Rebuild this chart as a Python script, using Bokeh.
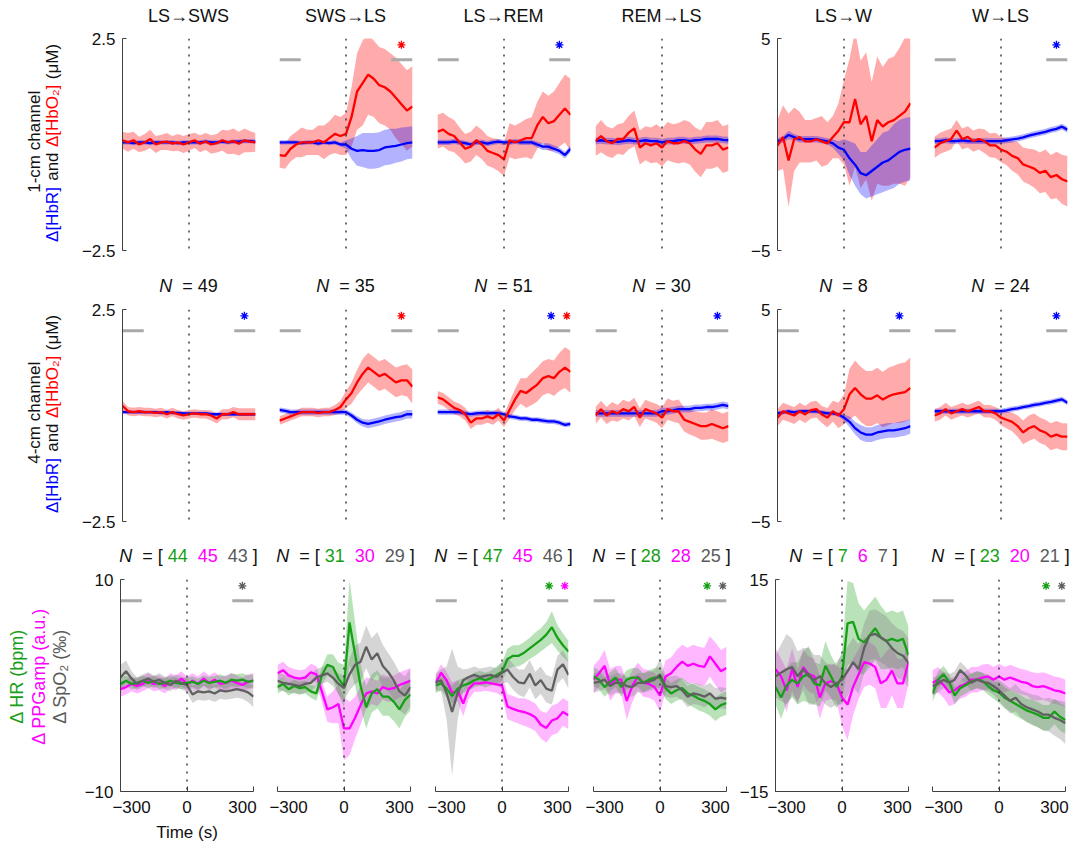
import math
import numpy as np
from bokeh.plotting import figure
from bokeh.layouts import column, row
from bokeh.models import Span, FixedTicker, Range1d, CustomJSTickFormatter
from bokeh.core.properties import value
from bokeh.embed import file_html
from bokeh.resources import INLINE

FONT = "Liberation Sans"

# ---------------- data ----------------
time_s = [-360, -330, -300, -270, -240, -210, -180, -150, -120, -90, -60, -30, 0,
          30, 60, 90, 120, 150, 180, 210, 240, 270, 300, 330, 360]

transitions = ["LS→SWS", "SWS→LS", "LS→REM", "REM→LS", "LS→W", "W→LS"]
n_4cm = [49, 35, 51, 30, 8, 24]
n_hr = [44, 31, 47, 28, 7, 23]
n_ppg = [45, 30, 45, 28, 6, 20]
n_spo2 = [43, 29, 46, 25, 7, 21]
ylim_hb = [2.5, 2.5, 2.5, 2.5, 5, 2.5]
ylim_phys = [10, 10, 10, 10, 15, 10]

# significance stars per panel
stars_1cm = [[], ["HbO2"], ["HbR"], [], [], ["HbR"]]
stars_4cm = [["HbR"], ["HbO2"], ["HbR", "HbO2"], ["HbR"], ["HbR"], ["HbR"]]
stars_phys = [["SpO2"], [], ["HR", "PPG"], ["HR", "SpO2"], [], ["HR", "SpO2"]]

# analysis windows (s)
win_pre = [-360, -245]
win_post = [245, 360]
star_x_one = [300]
star_x_two = [255, 340]

# ---- 1-cm channel (uM) ----
hbo1_c1 = [0.10, 0.05, 0.10, 0.00, 0.05, 0.13, 0.00, 0.05, 0.07, 0.02, 0.05, 0.00, 0.05, 0.10, 0.02, 0.07, 0.00, 0.03, 0.10, 0.05, 0.08, 0.02, 0.10, 0.07, 0.05]
hbo1_c1_se = [0.20, 0.22, 0.20, 0.18, 0.20, 0.22, 0.20, 0.18, 0.20, 0.18, 0.20, 0.20, 0.20, 0.18, 0.20, 0.20, 0.22, 0.22, 0.25, 0.28, 0.30, 0.28, 0.28, 0.25, 0.22]
hbr1_c1 = [0.05, 0.05, 0.03, 0.05, 0.05, 0.03, 0.05, 0.05, 0.05, 0.05, 0.03, 0.05, 0.05, 0.05, 0.05, 0.07, 0.05, 0.05, 0.07, 0.05, 0.07, 0.07, 0.08, 0.08, 0.07]
hbr1_c1_se = [0.05, 0.05, 0.05, 0.05, 0.05, 0.05, 0.05, 0.05, 0.05, 0.05, 0.05, 0.05, 0.05, 0.05, 0.05, 0.05, 0.05, 0.05, 0.05, 0.05, 0.05, 0.05, 0.05, 0.05, 0.05]

hbo1_c2 = [-0.25, -0.27, -0.10, 0.00, 0.05, 0.05, 0.05, 0.10, 0.05, 0.15, 0.25, 0.20, 0.25, 0.65, 1.25, 1.45, 1.65, 1.55, 1.40, 1.35, 1.25, 1.10, 0.95, 0.80, 0.90]
hbo1_c2_se = [0.30, 0.30, 0.30, 0.30, 0.35, 0.30, 0.30, 0.35, 0.40, 0.40, 0.45, 0.45, 0.50, 0.70, 0.90, 1.00, 0.95, 0.90, 0.90, 0.90, 0.90, 0.95, 0.95, 0.95, 0.95]
hbr1_c2 = [0.05, 0.05, 0.05, 0.05, 0.03, 0.05, 0.05, 0.02, 0.05, 0.03, 0.05, 0.00, 0.00, -0.10, -0.15, -0.13, -0.15, -0.15, -0.13, -0.07, -0.05, -0.03, 0.00, 0.03, 0.05]
hbr1_c2_se = [0.05, 0.05, 0.05, 0.05, 0.05, 0.05, 0.05, 0.05, 0.05, 0.05, 0.05, 0.05, 0.10, 0.25, 0.35, 0.40, 0.42, 0.42, 0.42, 0.42, 0.42, 0.40, 0.40, 0.38, 0.38]

hbo1_c3 = [0.30, 0.35, 0.25, 0.20, 0.05, -0.10, -0.05, 0.10, 0.00, -0.15, -0.20, -0.25, -0.35, 0.10, 0.05, 0.10, 0.15, 0.15, 0.45, 0.65, 0.50, 0.55, 0.70, 0.85, 0.70]
hbo1_c3_se = [0.40, 0.40, 0.40, 0.38, 0.35, 0.35, 0.35, 0.35, 0.35, 0.35, 0.35, 0.38, 0.40, 0.40, 0.40, 0.42, 0.45, 0.50, 0.55, 0.60, 0.65, 0.70, 0.75, 0.80, 0.85]
hbr1_c3 = [0.05, 0.05, 0.05, 0.07, 0.05, 0.03, 0.00, 0.05, 0.05, 0.02, 0.05, 0.07, 0.05, 0.05, 0.07, 0.05, 0.05, 0.05, 0.00, -0.05, -0.05, -0.10, -0.15, -0.25, -0.10]
hbr1_c3_se = [0.06, 0.06, 0.06, 0.06, 0.06, 0.06, 0.06, 0.06, 0.06, 0.06, 0.06, 0.06, 0.06, 0.06, 0.06, 0.06, 0.06, 0.06, 0.07, 0.08, 0.08, 0.08, 0.08, 0.08, 0.08]

hbo1_c4 = [0.08, 0.20, 0.08, 0.03, 0.13, 0.13, 0.28, 0.38, -0.07, 0.03, -0.02, 0.03, -0.07, 0.08, 0.03, 0.03, 0.08, 0.03, -0.12, -0.22, -0.02, -0.02, 0.03, -0.12, -0.07]
hbo1_c4_se = [0.35, 0.38, 0.35, 0.35, 0.35, 0.38, 0.40, 0.42, 0.40, 0.40, 0.42, 0.45, 0.45, 0.45, 0.45, 0.48, 0.50, 0.50, 0.52, 0.55, 0.55, 0.55, 0.55, 0.55, 0.55]
hbr1_c4 = [0.08, 0.10, 0.08, 0.08, 0.06, 0.08, 0.10, 0.08, 0.08, 0.10, 0.08, 0.08, 0.05, 0.08, 0.08, 0.10, 0.10, 0.08, 0.10, 0.11, 0.13, 0.13, 0.13, 0.11, 0.10]
hbr1_c4_se = [0.08, 0.08, 0.08, 0.08, 0.08, 0.08, 0.08, 0.08, 0.08, 0.08, 0.08, 0.08, 0.08, 0.08, 0.08, 0.08, 0.08, 0.08, 0.08, 0.08, 0.08, 0.08, 0.08, 0.08, 0.08]

hbo1_c5 = [-0.05, 0.35, -0.75, 0.25, 0.35, 0.15, 0.15, 0.25, 0.15, 0.05, 0.35, 0.65, 1.05, 1.05, 2.15, 0.95, 1.35, 0.15, 1.15, 0.85, 1.05, 1.15, 1.35, 1.55, 1.95]
hbo1_c5_se = [1.2, 1.5, 2.2, 1.5, 1.2, 1.0, 1.0, 1.0, 1.2, 1.0, 1.0, 1.3, 2.0, 3.0, 3.2, 3.0, 3.0, 2.8, 3.0, 2.8, 3.0, 3.0, 3.2, 3.5, 3.5]
hbr1_c5 = [0.15, 0.25, 0.45, 0.35, 0.25, 0.25, 0.25, 0.25, 0.20, 0.15, 0.05, -0.15, -0.25, -0.65, -0.95, -1.35, -1.45, -1.25, -1.05, -0.85, -0.75, -0.55, -0.35, -0.25, -0.20]
hbr1_c5_se = [0.15, 0.15, 0.20, 0.15, 0.15, 0.15, 0.15, 0.15, 0.15, 0.15, 0.20, 0.30, 0.50, 0.80, 1.00, 1.00, 1.10, 1.20, 1.30, 1.40, 1.40, 1.50, 1.50, 1.50, 1.50]

hbo1_c6 = [-0.07, 0.03, 0.08, 0.13, 0.33, 0.13, 0.18, 0.08, 0.13, 0.08, -0.02, -0.02, -0.12, -0.17, -0.27, -0.32, -0.47, -0.52, -0.57, -0.67, -0.62, -0.77, -0.72, -0.82, -0.87]
hbo1_c6_se = [0.25, 0.25, 0.25, 0.25, 0.25, 0.25, 0.25, 0.25, 0.25, 0.28, 0.28, 0.30, 0.30, 0.32, 0.35, 0.38, 0.40, 0.42, 0.45, 0.48, 0.50, 0.52, 0.55, 0.58, 0.60]
hbr1_c6 = [0.08, 0.08, 0.10, 0.08, 0.08, 0.10, 0.08, 0.08, 0.08, 0.08, 0.08, 0.08, 0.08, 0.10, 0.12, 0.14, 0.17, 0.21, 0.24, 0.27, 0.30, 0.34, 0.37, 0.42, 0.35]
hbr1_c6_se = [0.07, 0.07, 0.07, 0.07, 0.07, 0.07, 0.07, 0.07, 0.07, 0.07, 0.07, 0.07, 0.07, 0.07, 0.07, 0.07, 0.07, 0.07, 0.07, 0.07, 0.07, 0.07, 0.07, 0.07, 0.07]

# ---- 4-cm channel (uM) ----
hbo4_c1 = [0.23, 0.10, 0.08, 0.10, 0.08, 0.08, 0.06, 0.08, 0.03, 0.08, 0.03, 0.00, 0.03, 0.05, 0.03, 0.03, 0.00, -0.07, 0.03, 0.03, 0.08, 0.03, 0.03, 0.03, 0.03]
hbo4_c1_se = [0.12, 0.10, 0.10, 0.10, 0.10, 0.10, 0.10, 0.10, 0.10, 0.10, 0.10, 0.10, 0.10, 0.10, 0.10, 0.10, 0.12, 0.12, 0.12, 0.12, 0.12, 0.14, 0.14, 0.14, 0.14]
hbr4_c1 = [0.08, 0.08, 0.08, 0.08, 0.08, 0.08, 0.08, 0.06, 0.08, 0.06, 0.06, 0.05, 0.05, 0.05, 0.05, 0.05, 0.03, 0.03, 0.03, 0.03, 0.03, 0.03, 0.03, 0.03, 0.03]
hbr4_c1_se = [0.04, 0.04, 0.04, 0.04, 0.04, 0.04, 0.04, 0.04, 0.04, 0.04, 0.04, 0.04, 0.04, 0.04, 0.04, 0.04, 0.04, 0.04, 0.04, 0.04, 0.04, 0.04, 0.04, 0.04, 0.04]

hbo4_c2 = [-0.12, -0.07, -0.02, 0.03, 0.08, 0.08, 0.08, 0.06, 0.08, 0.08, 0.13, 0.20, 0.38, 0.53, 0.78, 0.98, 1.13, 1.03, 0.93, 0.98, 0.88, 0.78, 0.83, 0.83, 0.68]
hbo4_c2_se = [0.10, 0.10, 0.10, 0.10, 0.10, 0.10, 0.10, 0.10, 0.10, 0.10, 0.12, 0.15, 0.20, 0.25, 0.30, 0.35, 0.35, 0.35, 0.35, 0.35, 0.35, 0.35, 0.35, 0.38, 0.40]
hbr4_c2 = [0.13, 0.11, 0.08, 0.08, 0.08, 0.08, 0.08, 0.08, 0.08, 0.08, 0.08, 0.08, 0.08, 0.00, -0.10, -0.17, -0.20, -0.17, -0.14, -0.10, -0.07, -0.04, -0.02, 0.03, 0.03]
hbr4_c2_se = [0.06, 0.06, 0.06, 0.06, 0.06, 0.06, 0.06, 0.06, 0.06, 0.06, 0.06, 0.06, 0.06, 0.07, 0.08, 0.09, 0.10, 0.10, 0.10, 0.10, 0.10, 0.10, 0.10, 0.10, 0.10]

hbo4_c3 = [0.43, 0.38, 0.28, 0.18, 0.13, 0.03, -0.17, -0.07, -0.07, -0.02, -0.07, 0.03, -0.12, 0.13, 0.38, 0.58, 0.53, 0.63, 0.73, 0.88, 0.93, 0.88, 1.03, 1.13, 1.03]
hbo4_c3_se = [0.15, 0.15, 0.15, 0.15, 0.15, 0.15, 0.15, 0.15, 0.15, 0.15, 0.15, 0.15, 0.15, 0.20, 0.25, 0.30, 0.35, 0.38, 0.40, 0.40, 0.40, 0.42, 0.45, 0.48, 0.50]
hbr4_c3 = [0.08, 0.08, 0.08, 0.08, 0.08, 0.05, 0.03, 0.05, 0.06, 0.05, 0.06, 0.05, 0.03, -0.02, -0.04, -0.07, -0.07, -0.10, -0.10, -0.12, -0.14, -0.14, -0.17, -0.22, -0.20]
hbr4_c3_se = [0.06, 0.06, 0.06, 0.06, 0.06, 0.06, 0.06, 0.06, 0.06, 0.06, 0.06, 0.06, 0.06, 0.06, 0.06, 0.06, 0.06, 0.06, 0.06, 0.06, 0.06, 0.06, 0.06, 0.06, 0.06]

hbo4_c4 = [0.00, 0.15, 0.00, 0.10, 0.05, 0.15, 0.10, 0.20, -0.05, 0.15, 0.10, 0.05, -0.05, 0.15, 0.10, 0.10, -0.10, -0.15, -0.20, -0.25, -0.25, -0.20, -0.25, -0.30, -0.25]
hbo4_c4_se = [0.20, 0.20, 0.20, 0.22, 0.20, 0.22, 0.22, 0.22, 0.22, 0.22, 0.22, 0.22, 0.25, 0.25, 0.25, 0.28, 0.28, 0.30, 0.30, 0.32, 0.32, 0.35, 0.35, 0.35, 0.35]
hbr4_c4 = [0.05, 0.05, 0.05, 0.05, 0.05, 0.05, 0.05, 0.05, 0.05, 0.05, 0.05, 0.05, 0.10, 0.10, 0.12, 0.15, 0.15, 0.15, 0.18, 0.18, 0.20, 0.20, 0.22, 0.25, 0.22]
hbr4_c4_se = [0.08, 0.08, 0.08, 0.08, 0.08, 0.08, 0.08, 0.08, 0.08, 0.08, 0.08, 0.08, 0.08, 0.08, 0.08, 0.08, 0.08, 0.08, 0.08, 0.08, 0.08, 0.08, 0.08, 0.08, 0.08]

hbo4_c5 = [-0.10, 0.20, 0.10, 0.00, 0.20, 0.05, 0.25, 0.30, 0.05, -0.10, 0.20, 0.00, 0.30, 1.00, 1.30, 1.00, 0.80, 0.80, 0.95, 0.75, 0.90, 1.00, 1.05, 1.10, 1.30]
hbo4_c5_se = [0.40, 0.40, 0.40, 0.40, 0.40, 0.40, 0.40, 0.40, 0.40, 0.45, 0.50, 0.60, 0.70, 1.20, 1.30, 1.30, 1.30, 1.30, 1.30, 1.30, 1.35, 1.35, 1.40, 1.40, 1.45]
hbr4_c5 = [0.10, 0.15, 0.20, 0.15, 0.20, 0.20, 0.20, 0.20, 0.15, 0.10, 0.10, 0.05, -0.10, -0.30, -0.60, -0.80, -0.90, -0.90, -0.80, -0.75, -0.70, -0.70, -0.65, -0.60, -0.50]
hbr4_c5_se = [0.10, 0.10, 0.10, 0.10, 0.10, 0.10, 0.10, 0.10, 0.10, 0.10, 0.10, 0.10, 0.15, 0.25, 0.30, 0.35, 0.35, 0.35, 0.35, 0.35, 0.35, 0.35, 0.35, 0.35, 0.35]

hbo4_c6 = [0.00, 0.05, 0.15, 0.05, 0.10, 0.15, 0.10, 0.15, 0.20, 0.10, 0.10, 0.05, -0.05, -0.10, -0.15, -0.25, -0.40, -0.30, -0.25, -0.35, -0.40, -0.50, -0.45, -0.50, -0.50]
hbo4_c6_se = [0.15, 0.15, 0.15, 0.15, 0.15, 0.15, 0.15, 0.15, 0.15, 0.15, 0.15, 0.15, 0.18, 0.20, 0.22, 0.25, 0.28, 0.30, 0.30, 0.30, 0.30, 0.32, 0.32, 0.32, 0.32]
hbr4_c6 = [0.10, 0.10, 0.10, 0.10, 0.10, 0.10, 0.10, 0.10, 0.10, 0.10, 0.10, 0.10, 0.10, 0.12, 0.15, 0.17, 0.20, 0.22, 0.25, 0.27, 0.30, 0.32, 0.35, 0.38, 0.30]
hbr4_c6_se = [0.06, 0.06, 0.06, 0.06, 0.06, 0.06, 0.06, 0.06, 0.06, 0.06, 0.06, 0.06, 0.06, 0.06, 0.06, 0.06, 0.06, 0.06, 0.06, 0.06, 0.06, 0.06, 0.06, 0.06, 0.06]

# ---- physiology: HR (bpm), PPGamp (a.u.), SpO2 (per mille) ----
hr_c1 = [0.15, 0.45, 0.15, 0.25, 0.45, 0.25, 0.45, 0.15, 0.25, 0.45, 0.25, 0.15, 0.25, 0.35, 0.15, 0.45, 0.25, 0.35, 0.45, 0.25, 0.55, 0.45, 0.55, 0.35, 0.45]
hr_c1_se = [0.6, 0.5, 0.5, 0.5, 0.5, 0.5, 0.5, 0.5, 0.5, 0.5, 0.5, 0.5, 0.5, 0.5, 0.5, 0.5, 0.55, 0.55, 0.6, 0.6, 0.6, 0.6, 0.6, 0.6, 0.6]
ppg_c1 = [-0.35, -0.15, 0.15, -0.05, 0.15, 0.45, 0.15, 0.25, -0.05, 0.45, 0.25, 0.65, 0.15, 0.45, 0.15, 0.65, 0.25, 0.55, 0.15, 0.25, 0.45, 0.25, 0.05, 0.35, 0.45]
ppg_c1_se = [0.7, 0.7, 0.7, 0.7, 0.7, 0.7, 0.7, 0.7, 0.7, 0.7, 0.7, 0.7, 0.7, 0.7, 0.7, 0.7, 0.7, 0.7, 0.7, 0.7, 0.7, 0.7, 0.7, 0.7, 0.7]
spo2_c1 = [0.75, 1.35, 0.65, 0.15, 0.45, 0.65, 0.35, 0.55, 0.25, 0.05, 0.45, 0.25, 0.05, -0.85, -0.55, -0.65, -0.55, -0.75, -0.45, -0.55, -0.45, -0.35, -0.45, -0.65, -1.05]
spo2_c1_se = [1.2, 1.0, 0.7, 0.6, 0.6, 0.6, 0.6, 0.6, 0.6, 0.6, 0.6, 0.6, 0.7, 0.8, 0.8, 0.8, 0.8, 0.8, 0.8, 0.8, 0.8, 0.8, 0.8, 0.9, 1.0]

hr_c2 = [-0.15, 0.15, -0.35, -0.05, -0.25, -0.15, -0.55, -0.75, 0.95, 1.95, 1.75, 0.65, -0.05, 5.95, 2.95, -0.05, -2.05, -0.75, -0.35, -1.05, -1.05, -1.55, -2.25, -1.35, -0.85]
hr_c2_se = [0.6, 0.6, 0.6, 0.6, 0.6, 0.6, 0.6, 0.7, 0.8, 1.0, 1.2, 1.5, 2.0, 4.0, 3.0, 2.0, 2.0, 1.8, 1.8, 1.8, 1.8, 1.8, 1.8, 1.6, 1.5]
ppg_c2 = [1.15, 1.45, 0.95, 0.75, 0.65, 0.75, 1.25, 1.05, -0.55, -2.25, -2.05, -1.75, -4.05, -4.05, -3.05, -1.85, -0.75, -0.55, -0.75, -0.15, -0.35, -0.25, 0.05, 0.25, 0.45]
ppg_c2_se = [0.8, 0.8, 0.8, 0.8, 0.8, 0.8, 0.8, 0.8, 1.0, 1.2, 1.5, 1.8, 3.0, 2.5, 2.0, 1.8, 1.5, 1.2, 1.2, 1.2, 1.2, 1.2, 1.2, 1.2, 1.2]
spo2_c2 = [0.45, 0.25, 0.15, 0.05, -0.05, 0.15, 0.25, 0.75, 0.95, 1.15, 0.75, 0.15, -0.25, 1.05, 1.95, 2.25, 3.65, 2.45, 3.05, 1.85, 1.25, 0.45, -0.55, -0.95, -0.15]
spo2_c2_se = [0.8, 0.8, 0.8, 0.8, 0.8, 0.8, 0.8, 0.8, 0.8, 0.8, 0.8, 1.0, 1.2, 1.5, 1.8, 1.8, 2.0, 2.0, 2.0, 2.0, 1.8, 1.8, 1.8, 1.8, 1.8]

hr_c3 = [0.0, 0.2, -0.3, -1.0, -0.3, 0.0, 0.2, 0.5, 0.7, 0.5, 0.7, 1.0, 1.3, 2.5, 2.8, 2.8, 3.1, 3.5, 3.9, 4.3, 4.8, 5.5, 4.5, 3.8, 3.2]
hr_c3_se = [0.7, 0.7, 0.8, 1.0, 0.8, 0.7, 0.7, 0.7, 0.7, 0.7, 0.7, 0.8, 0.9, 1.0, 1.0, 1.0, 1.0, 1.0, 1.1, 1.1, 1.2, 1.5, 1.2, 1.1, 1.0]
ppg_c3 = [0.2, 1.2, 0.5, -0.7, -0.5, -1.7, -0.3, 0.2, 0.2, 0.3, 0.2, 0.1, 0.0, -2.0, -2.2, -2.4, -2.5, -2.7, -3.0, -3.7, -4.0, -3.3, -3.1, -2.5, -2.8]
ppg_c3_se = [0.8, 0.8, 0.8, 1.0, 1.0, 1.2, 1.0, 0.8, 0.8, 0.8, 0.8, 0.8, 1.0, 1.2, 1.2, 1.2, 1.3, 1.3, 1.3, 1.3, 1.4, 1.4, 1.4, 1.3, 1.3]
spo2_c3 = [0.3, 0.5, -0.7, -2.5, -0.7, 0.5, 0.8, 1.0, 0.8, 0.9, 1.0, 0.8, 1.2, 1.5, 0.8, 0.3, 0.2, 1.1, 0.0, 0.5, -0.3, -0.5, 1.5, 2.0, 1.0]
spo2_c3_se = [0.8, 1.0, 2.5, 6.0, 2.5, 1.0, 0.8, 0.8, 0.8, 0.8, 0.8, 0.8, 1.0, 1.2, 1.2, 1.2, 1.3, 1.3, 1.3, 1.3, 1.3, 1.3, 1.3, 1.3, 1.3]

hr_c4 = [0.85, 0.55, -0.15, 0.35, 0.75, -0.15, 0.55, 0.75, 0.75, 0.25, 0.55, 0.75, 0.75, -0.25, -0.75, -0.45, -0.25, -0.75, -0.95, -1.25, -1.45, -1.75, -2.25, -1.85, -1.65]
hr_c4_se = [0.9, 0.9, 0.9, 0.9, 0.9, 0.9, 0.9, 0.9, 0.9, 0.9, 0.9, 0.9, 1.0, 1.0, 1.0, 1.0, 1.0, 1.0, 1.1, 1.1, 1.1, 1.1, 1.1, 1.1, 1.1]
ppg_c4 = [0.55, 1.15, 1.85, 0.05, 0.55, 0.55, -1.45, -0.05, 0.85, 0.25, 0.15, -0.15, -0.95, 0.85, 1.15, 1.75, 2.25, 1.85, 2.05, 1.85, 1.75, 2.75, 2.05, 1.35, 1.65]
ppg_c4_se = [1.3, 1.3, 1.5, 1.5, 1.3, 1.3, 1.8, 1.5, 1.3, 1.3, 1.3, 1.3, 1.5, 1.5, 1.5, 1.6, 1.6, 1.7, 1.8, 1.8, 1.8, 1.9, 2.0, 2.0, 2.0]
spo2_c4 = [0.25, 0.35, 0.55, -0.05, 0.25, 0.25, -0.05, -0.15, 0.25, 0.25, 0.35, 0.55, 1.05, -0.05, -0.15, -0.05, -0.45, -1.05, -0.75, -0.85, -1.05, -0.75, -1.25, -1.15, -1.25]
spo2_c4_se = [0.9, 0.9, 0.9, 0.9, 0.9, 0.9, 0.9, 0.9, 0.9, 0.9, 0.9, 0.9, 1.5, 1.0, 1.0, 1.0, 1.0, 1.0, 1.0, 1.0, 1.0, 1.0, 1.0, 1.0, 1.0]

hr_c5 = [-0.2, -1.7, 0.0, 0.8, 0.3, 1.3, 1.6, 0.3, 0.0, 2.8, 1.3, -0.2, 1.3, 8.8, 9.0, 6.6, 6.1, 7.1, 8.1, 6.8, 6.3, 6.6, 6.3, 6.6, 4.3]
hr_c5_se = [2.5, 3.0, 2.5, 2.5, 3.0, 3.5, 4.0, 3.0, 3.0, 3.5, 3.0, 3.0, 3.5, 6.0, 5.5, 5.0, 4.5, 4.5, 4.5, 4.5, 4.0, 4.0, 4.0, 4.0, 4.0]
ppg_c5 = [2.3, 1.3, -0.7, 2.3, -0.2, 2.6, 1.6, 1.3, -1.7, 0.3, 0.6, 0.3, -1.7, -2.7, -0.2, 1.6, 3.3, 3.1, 2.6, 0.3, 0.8, 2.1, 0.3, 0.3, 3.3]
ppg_c5_se = [3.0, 2.5, 3.0, 3.0, 2.5, 2.5, 2.5, 2.5, 3.0, 2.5, 2.5, 2.5, 4.0, 5.0, 4.0, 3.5, 3.5, 3.0, 3.0, 3.5, 4.0, 3.5, 3.5, 3.5, 3.0]
spo2_c5 = [1.3, 1.8, 2.3, 2.6, 1.3, 2.3, 1.3, 0.8, 1.3, 0.3, -0.2, 0.3, 0.8, 2.0, 3.3, 2.3, 5.3, 7.1, 7.3, 6.8, 6.3, 5.3, 4.6, 4.2, 3.2]
spo2_c5_se = [3.0, 4.0, 5.0, 4.0, 3.5, 3.0, 4.0, 3.5, 3.0, 3.0, 3.0, 3.0, 3.5, 3.5, 3.5, 3.5, 3.5, 3.5, 3.5, 3.5, 3.5, 3.5, 3.5, 3.5, 3.5]

hr_c6 = [-0.75, 0.55, 1.05, 0.35, -0.95, -0.25, 0.05, 0.35, 0.55, 0.45, -0.05, -0.45, -0.65, -1.15, -1.45, -1.75, -2.05, -2.35, -2.55, -2.75, -3.05, -3.05, -2.45, -2.95, -3.25]
hr_c6_se = [0.8, 0.8, 0.8, 0.8, 0.8, 0.8, 0.8, 0.8, 0.8, 0.8, 0.8, 0.8, 1.0, 1.0, 1.0, 1.1, 1.1, 1.1, 1.2, 1.2, 1.2, 1.2, 1.2, 1.3, 1.3]
ppg_c6 = [0.25, 0.55, 0.05, -0.65, -0.45, -0.05, 0.15, 0.55, 0.55, 0.75, 0.85, 0.55, 0.85, 0.55, 0.75, 0.55, 0.35, 0.25, -0.05, -0.15, -0.05, -0.25, -0.45, -0.55, -0.75]
ppg_c6_se = [1.2, 1.2, 1.2, 1.3, 1.3, 1.2, 1.2, 1.2, 1.2, 1.2, 1.2, 1.2, 1.2, 1.2, 1.2, 1.2, 1.2, 1.2, 1.3, 1.3, 1.3, 1.3, 1.3, 1.3, 1.3]
spo2_c6 = [-0.05, 0.15, 0.55, 0.25, 0.55, 1.45, 0.95, 0.25, 0.55, 0.35, 0.25, -0.05, -0.45, -0.95, -1.45, -1.15, -1.75, -2.05, -2.25, -2.45, -2.75, -2.75, -3.05, -3.25, -3.55]
spo2_c6_se = [0.8, 0.8, 0.8, 0.8, 0.8, 0.8, 0.8, 0.8, 0.8, 0.8, 0.8, 0.8, 1.0, 1.1, 1.2, 1.3, 1.3, 1.4, 1.4, 1.5, 1.5, 1.6, 1.7, 1.8, 2.0]

hb_1cm = [(hbo1_c1, hbo1_c1_se, hbr1_c1, hbr1_c1_se), (hbo1_c2, hbo1_c2_se, hbr1_c2, hbr1_c2_se),
          (hbo1_c3, hbo1_c3_se, hbr1_c3, hbr1_c3_se), (hbo1_c4, hbo1_c4_se, hbr1_c4, hbr1_c4_se),
          (hbo1_c5, hbo1_c5_se, hbr1_c5, hbr1_c5_se), (hbo1_c6, hbo1_c6_se, hbr1_c6, hbr1_c6_se)]
hb_4cm = [(hbo4_c1, hbo4_c1_se, hbr4_c1, hbr4_c1_se), (hbo4_c2, hbo4_c2_se, hbr4_c2, hbr4_c2_se),
          (hbo4_c3, hbo4_c3_se, hbr4_c3, hbr4_c3_se), (hbo4_c4, hbo4_c4_se, hbr4_c4, hbr4_c4_se),
          (hbo4_c5, hbo4_c5_se, hbr4_c5, hbr4_c5_se), (hbo4_c6, hbo4_c6_se, hbr4_c6, hbr4_c6_se)]
phys = [(hr_c1, hr_c1_se, ppg_c1, ppg_c1_se, spo2_c1, spo2_c1_se),
        (hr_c2, hr_c2_se, ppg_c2, ppg_c2_se, spo2_c2, spo2_c2_se),
        (hr_c3, hr_c3_se, ppg_c3, ppg_c3_se, spo2_c3, spo2_c3_se),
        (hr_c4, hr_c4_se, ppg_c4, ppg_c4_se, spo2_c4, spo2_c4_se),
        (hr_c5, hr_c5_se, ppg_c5, ppg_c5_se, spo2_c5, spo2_c5_se),
        (hr_c6, hr_c6_se, ppg_c6, ppg_c6_se, spo2_c6, spo2_c6_se)]

# ---------------- style / layout ----------------
BLUE = "#0000ff"
RED = "#ff0000"
GREEN = "#17a017"
MAGENTA = "#ff00ff"
GRAY = "#606060"
GRAYTXT = "#5a5a5a"
BAR = "#a9a9a9"
AX = "#404040"
K = "#111111"
STAR_COLOR = {"HbR": BLUE, "HbO2": RED, "HR": GREEN, "PPG": MAGENTA, "SpO2": GRAY}
LW = 2.3

TOTAL_W = 1072
LEFT_W = 78
FW, FH = 133, 212
COL_LEFT = [42, 16, 17, 17, 41, 16]
COL_RIGHT = [8, 8, 8, 8, 8, 7]
ROW_TOP = [8, 8, 8]
ROW_BOTTOM = [10, 10, 30]
STRIP_H = [30, 41, 40, 25]
TITLE_Y = [15, 16, 16]

# frame centres in page pixels
frame_left = []
acc = LEFT_W
for c in range(6):
    frame_left.append(acc + COL_LEFT[c])
    acc += COL_LEFT[c] + FW + COL_RIGHT[c]
frame_center = [fl + FW / 2.0 + 1.5 for fl in frame_left]

ADV = {"N": 722, " ": 278, "=": 584, "[": 278, "]": 278}
for d in "0123456789":
    ADV[d] = 556


def tw(s, size):
    return sum(ADV[ch] for ch in s) * size / 1000.0


minus_fmt = CustomJSTickFormatter(code="return (tick < 0 ? '\u2212' : '') + Math.abs(tick);")


def text_fig(w, h):
    f = figure(width=w, height=h, x_range=Range1d(0, w), y_range=Range1d(0, h),
               title=None, toolbar_location=None, tools="", output_backend="svg",
               x_axis_location=None, y_axis_location=None,
               min_border_left=0, min_border_right=0, min_border_top=0, min_border_bottom=0)
    f.xgrid.visible = False
    f.ygrid.visible = False
    f.outline_line_color = None
    f.background_fill_color = "white"
    f.border_fill_color = "white"
    return f


def put(f, x, y, s, color=K, size=18, align="center", italic=False, angle=0.0):
    f.text(x=[x], y=[y], text=[s], text_color=color, text_font=value(FONT),
           text_font_size=value(f"{size}px"), text_align=align, text_baseline="middle",
           text_font_style=value("italic" if italic else "normal"), angle=angle)


def put_pieces(f, pieces, cx, y, size=18):
    total = sum(tw(t, size) for t, _, _ in pieces)
    x = min(cx - total / 2.0, TOTAL_W - 2 - total)
    for s, color, italic in pieces:
        if color is not None:
            put(f, x, y, s, color, size, "left", italic)
        x += tw(s, size)


def make_fig(r, c, ymax, show_y, show_x):
    p = figure(frame_width=FW, frame_height=FH, x_range=Range1d(-360, 360),
               y_range=Range1d(-ymax, ymax), title=None, toolbar_location=None,
               tools="", output_backend="svg",
               x_axis_location="below" if show_x else None,
               y_axis_location="left" if show_y else None,
               min_border_left=COL_LEFT[c], min_border_right=COL_RIGHT[c],
               min_border_top=ROW_TOP[r], min_border_bottom=ROW_BOTTOM[r])
    p.xgrid.visible = False
    p.ygrid.visible = False
    p.outline_line_color = None
    p.background_fill_color = "white"
    p.border_fill_color = "white"
    if show_y:
        ax = p.yaxis[0]
        ax.ticker = FixedTicker(ticks=[-ymax, ymax])
        ax.formatter = minus_fmt
        ax.major_tick_in = 4
        ax.major_tick_out = 0
        ax.minor_tick_line_color = None
        ax.axis_line_color = AX
        ax.major_tick_line_color = AX
        ax.major_label_text_font = FONT
        ax.major_label_text_font_size = "17px"
        ax.major_label_text_color = K
        ax.major_label_standoff = 7
    if show_x:
        ax = p.xaxis[0]
        ax.ticker = FixedTicker(ticks=[-300, 0, 300], minor_ticks=[-360, 0, 360])
        ax.formatter = minus_fmt
        ax.major_tick_in = 0
        ax.major_tick_out = 0
        ax.major_tick_line_color = None
        ax.minor_tick_in = 5
        ax.minor_tick_out = 0
        ax.minor_tick_line_color = AX
        ax.axis_line_color = AX
        ax.major_label_text_font = FONT
        ax.major_label_text_font_size = "17px"
        ax.major_label_text_color = K
        ax.major_label_standoff = 9
    p.add_layout(Span(location=0, dimension="height", line_color="#303030",
                      line_width=1.4, line_dash="2 6"))
    return p


def band(p, mean, se, color, alpha):
    m = np.array(mean)
    s = np.array(se)
    p.varea(x=time_s, y1=m - s, y2=m + s, fill_color=color, fill_alpha=alpha)


def add_marks(p, ymax, stars):
    if not stars:
        return
    yb = 0.8 * ymax
    p.segment(x0=[win_pre[0], win_post[0]], x1=[win_pre[1], win_post[1]],
              y0=[yb, yb], y1=[yb, yb], line_color=BAR, line_width=3)
    xs = star_x_one if len(stars) == 1 else star_x_two
    for xv, key in zip(xs, stars):
        p.scatter(x=[xv], y=[0.94 * ymax], marker="asterisk", size=8,
                  line_color=STAR_COLOR[key], line_width=1.3)


HALF_PI = math.pi / 2

# title strips
strips = [text_fig(TOTAL_W, h) for h in STRIP_H]
for c in range(6):
    put(strips[0], frame_center[c], TITLE_Y[0], transitions[c], K, 18)
    put_pieces(strips[1], [("N", K, True), ("  ", None, False), (f"= {n_4cm[c]}", K, False)],
               frame_center[c], TITLE_Y[1])
    put_pieces(strips[2], [("N", K, True), ("  ", None, False), ("= [", K, False), (" ", None, False),
                           (str(n_hr[c]), GREEN, False), ("  ", None, False),
                           (str(n_ppg[c]), MAGENTA, False), ("  ", None, False),
                           (str(n_spo2[c]), GRAYTXT, False), (" ", None, False), ("]", K, False)],
               frame_center[c], TITLE_Y[2])
put(strips[3], frame_left[0] + FW / 2.0, 14, "Time (s)", K, 17)

# left label columns
row_h = [ROW_TOP[r] + FH + ROW_BOTTOM[r] for r in range(3)]
left_figs = [text_fig(LEFT_W, row_h[r]) for r in range(3)]
for r, name in enumerate(["1-cm channel", "4-cm channel"]):
    f = left_figs[r]
    b = ROW_BOTTOM[r]
    put(f, 33.6, b + 108, name, K, 17, angle=HALF_PI)
    for s, color, yc in [("Δ[HbR]", BLUE, 29), ("and", K, 81),
                         ("Δ[HbO₂]", RED, 136), ("(μM)", K, 195)]:
        put(f, 51.7, b + yc, s, color, 17, angle=HALF_PI)
f = left_figs[2]
b = ROW_BOTTOM[2]
put(f, 16.3, b + FH / 2.0, "Δ HR (bpm)", GREEN, 18, angle=HALF_PI)
put(f, 38.8, b + FH / 2.0, "Δ PPGamp (a.u.)", MAGENTA, 18, angle=HALF_PI)
put(f, 59.5, b + FH / 2.0, "Δ SpO₂ (‰)", GRAYTXT, 18, angle=HALF_PI)

panel_rows = [[left_figs[0]], [left_figs[1]], [left_figs[2]]]

for r, (data, stars_row) in enumerate([(hb_1cm, stars_1cm), (hb_4cm, stars_4cm)]):
    for c in range(6):
        ymax = ylim_hb[c]
        p = make_fig(r, c, ymax, c in (0, 4), False)
        hbo, hbo_se, hbr, hbr_se = data[c]
        band(p, hbo, hbo_se, RED, 0.33)
        band(p, hbr, hbr_se, BLUE, 0.30)
        p.line(time_s, hbr, line_color=BLUE, line_width=LW)
        p.line(time_s, hbo, line_color=RED, line_width=LW)
        add_marks(p, ymax, stars_row[c])
        panel_rows[r].append(p)

for c in range(6):
    ymax = ylim_phys[c]
    p = make_fig(2, c, ymax, c in (0, 4), True)
    hr, hr_se, ppg, ppg_se, spo2, spo2_se = phys[c]
    band(p, ppg, ppg_se, MAGENTA, 0.28)
    band(p, hr, hr_se, GREEN, 0.30)
    band(p, spo2, spo2_se, "#808080", 0.33)
    p.line(time_s, ppg, line_color=MAGENTA, line_width=LW)
    p.line(time_s, hr, line_color=GREEN, line_width=LW)
    p.line(time_s, spo2, line_color=GRAY, line_width=LW)
    add_marks(p, ymax, stars_phys[c])
    panel_rows[2].append(p)

layout = column(strips[0], row(*panel_rows[0]),
                strips[1], row(*panel_rows[1]),
                strips[2], row(*panel_rows[2]),
                strips[3])
open("out.html", "w").write(file_html(layout, INLINE, title="fNIRS transitions"))
